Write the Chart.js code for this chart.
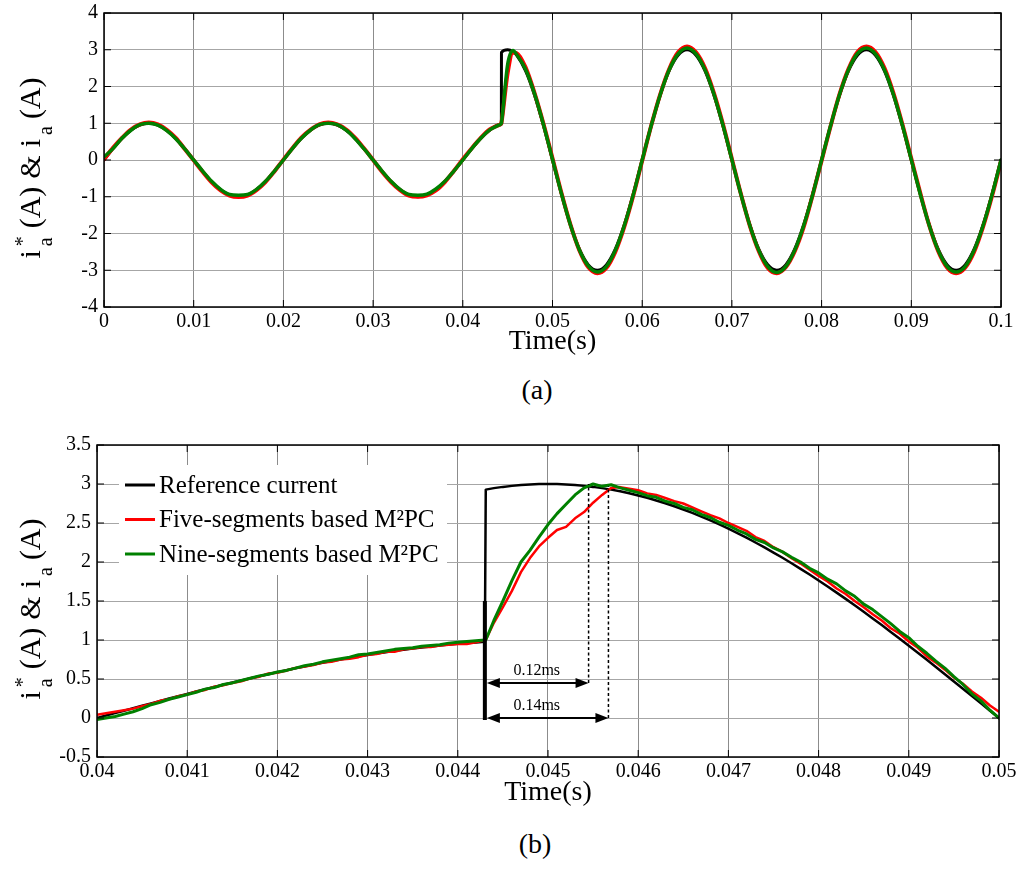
<!DOCTYPE html>
<html>
<head>
<meta charset="utf-8">
<script src="https://cdn.jsdelivr.net/npm/chart.js@4/dist/chart.umd.min.js"></script>
<style>
  body { margin: 0; background: #fff; width: 1017px; height: 869px; position: relative; overflow: hidden; }
  canvas { position: absolute; left: 0; }
  #chartA { top: 0; }
  #chartB { top: 430px; }
  .cap { position: absolute; width: 100px; text-align: center; font: 28px "Liberation Serif", serif; line-height: 28px; }
</style>
</head>
<body>
<canvas id="chartA" width="1017" height="365"></canvas>
<canvas id="chartB" width="1017" height="385"></canvas>
<div class="cap" style="left:487px;top:376px">(a)</div>
<div class="cap" style="left:485px;top:830px">(b)</div>
<script>
// series labels
var seriesNames = ["Reference current", "Five-segments based M²PC", "Nine-segments based M²PC"]

// (a) 0 - 0.1 s, times in ms
var timeA = [0,1,2,3,4,5,6,7,8,9,10,11,12,13,14,15,16,17,18,19,20,21,22,23,24,25,26,27,28,29,30,31,32,33,34,35,36,37,38,39,40,41,42,43,44,
  44.3,44.31,45,45.6,
  46,47,48,49,50,51,52,53,54,55,56,57,58,59,60,61,62,63,64,65,66,67,68,69,70,71,72,73,74,75,76,77,78,79,80,81,82,83,84,85,86,87,88,89,90,91,92,93,94,95,96,97,98,99,100]
var refA = [0,.309,.588,.809,.951,1,.951,.809,.588,.309,0,-.309,-.588,-.809,-.951,-1,-.951,-.809,-.588,-.309,
  0,.309,.588,.809,.951,1,.951,.809,.588,.309,0,-.309,-.588,-.809,-.951,-1,-.951,-.809,-.588,-.309,
  0,.309,.588,.809,.951,
  .976,2.93,3,2.947,
  2.853,2.427,1.763,.927,0,-.927,-1.763,-2.427,-2.853,-3,-2.853,-2.427,-1.763,-.927,0,.927,1.763,2.427,2.853,3,
  2.853,2.427,1.763,.927,0,-.927,-1.763,-2.427,-2.853,-3,-2.853,-2.427,-1.763,-.927,0,.927,1.763,2.427,2.853,3,
  2.853,2.427,1.763,.927,0,-.927,-1.763,-2.427,-2.853,-3,-2.853,-2.427,-1.763,-.927,0]
var fiveA = [.02,.33,.6,.83,.97,1.02,.97,.82,.6,.3,-.01,-.32,-.61,-.83,-.97,-1.01,-.97,-.82,-.6,-.31,
  .01,.32,.61,.82,.97,1.02,.97,.83,.6,.31,0,-.32,-.6,-.82,-.97,-1,-.96,-.83,-.6,-.3,
  .02,.32,.6,.83,.95,
  1,1.01,2.37,2.92,
  2.91,2.52,1.82,.98,.05,-.9,-1.76,-2.46,-2.92,-3.08,-2.94,-2.5,-1.82,-.97,-.02,.93,1.78,2.47,2.93,3.09,
  2.93,2.5,1.82,.98,.03,-.92,-1.79,-2.48,-2.94,-3.08,-2.92,-2.49,-1.83,-.96,-.02,.92,1.79,2.48,2.94,3.09,
  2.94,2.51,1.83,.98,.04,-.9,-1.78,-2.48,-2.93,-3.08,-2.93,-2.5,-1.82,-.98,-.03]
var nineA = [.08,.31,.59,.81,.96,1,.95,.8,.58,.3,0,-.3,-.58,-.8,-.94,-.96,-.94,-.8,-.58,-.3,
  0,.31,.59,.81,.96,1,.96,.81,.58,.3,0,-.3,-.58,-.8,-.94,-.96,-.93,-.79,-.58,-.3,
  0,.31,.59,.82,.95,
  1,1.01,2.6,2.98,
  2.87,2.47,1.8,.96,.02,-.92,-1.77,-2.45,-2.89,-3.05,-2.9,-2.46,-1.79,-.95,0,.93,1.77,2.45,2.89,3.05,
  2.89,2.46,1.79,.95,.01,-.93,-1.78,-2.46,-2.9,-3.06,-2.9,-2.46,-1.79,-.95,0,.93,1.78,2.46,2.9,3.05,
  2.89,2.46,1.79,.95,.01,-.93,-1.78,-2.46,-2.9,-3.05,-2.9,-2.46,-1.79,-.95,0]

// (b) 0.04 - 0.05 s, times in ms
var timeB = [40,40.1,40.2,40.3,40.4,40.5,40.6,40.7,40.8,40.9,41,41.1,41.2,41.3,41.4,41.5,41.6,41.7,41.8,41.9,
  42,42.1,42.2,42.3,42.4,42.5,42.6,42.7,42.8,42.9,43,43.1,43.2,43.3,43.4,43.5,43.6,43.7,43.8,43.9,44,44.1,44.2,44.3,
  44.31,
  44.4,44.5,44.6,44.7,44.8,44.9,45,45.1,45.2,45.3,45.4,45.5,45.6,45.7,45.8,45.9,46,46.1,46.2,46.3,46.4,46.5,46.6,46.7,46.8,46.9,
  47,47.1,47.2,47.3,47.4,47.5,47.6,47.7,47.8,47.9,48,48.1,48.2,48.3,48.4,48.5,48.6,48.7,48.8,48.9,49,49.1,49.2,49.3,49.4,49.5,49.6,49.7,49.8,49.9,50]
var refB = [0,.031,.063,.094,.125,.156,.187,.218,.249,.279,.309,.339,.368,.397,.426,.454,.482,.509,.536,.562,
  .588,.613,.637,.661,.685,.707,.729,.75,.771,.79,.809,.827,.844,.861,.876,.891,.905,.918,.93,.941,.951,.96,.969,.976,
  2.928,
  2.947,2.963,2.976,2.987,2.994,2.999,3,2.999,2.994,2.987,2.976,2.963,2.947,2.928,2.906,2.881,2.853,2.823,2.789,2.753,2.714,2.673,2.629,2.582,2.533,2.481,
  2.427,2.371,2.312,2.25,2.187,2.121,2.054,1.984,1.912,1.839,1.763,1.686,1.607,1.527,1.445,1.362,1.277,1.191,1.104,1.016,.927,.837,.746,.654,.562,.469,.376,.282,.188,.094,0]
var fiveB = [.04,.06,.08,.1,.12,.15,.18,.22,.24,.28,.3,.34,.36,.4,.42,.45,.47,.51,.53,.57,
  .58,.61,.64,.66,.68,.71,.72,.75,.76,.78,.81,.82,.85,.85,.88,.89,.91,.91,.93,.94,.95,.95,.97,1,
  1,
  1.22,1.42,1.63,1.87,2.05,2.2,2.31,2.41,2.45,2.56,2.64,2.76,2.86,2.95,2.96,2.94,2.92,2.88,2.86,2.82,2.78,2.75,2.7,2.65,2.6,2.56,
  2.5,2.45,2.4,2.32,2.27,2.19,2.13,2.05,1.98,1.9,1.82,1.75,1.66,1.59,1.5,1.42,1.33,1.25,1.15,1.08,.98,.9,.79,.71,.62,.52,.44,.34,.26,.16,.08]
var nineB = [-.02,0,.02,.05,.08,.12,.17,.2,.24,.27,.3,.33,.37,.39,.43,.45,.48,.51,.54,.56,
  .59,.61,.64,.67,.69,.72,.74,.76,.78,.81,.82,.84,.86,.88,.89,.9,.92,.93,.94,.96,.97,.98,.99,1,
  1,
  1.25,1.5,1.76,2,2.15,2.32,2.48,2.62,2.74,2.86,2.95,3,2.97,2.99,2.95,2.92,2.89,2.85,2.83,2.78,2.75,2.7,2.67,2.61,2.57,2.51,
  2.47,2.41,2.36,2.29,2.25,2.18,2.13,2.06,2,1.92,1.86,1.78,1.72,1.63,1.56,1.46,1.39,1.3,1.21,1.11,1.03,.92,.83,.73,.64,.53,.43,.31,.22,.1,0]

// tick values
var xTicksA = [0,0.01,0.02,0.03,0.04,0.05,0.06,0.07,0.08,0.09,0.1]
var yTicksA = [-4,-3,-2,-1,0,1,2,3,4]
var xTicksB = [0.04,0.041,0.042,0.043,0.044,0.045,0.046,0.047,0.048,0.049,0.05]
var yTicksB = [-0.5,0,0.5,1,1.5,2,2.5,3,3.5]

// response-time annotation in (b)
var stepTime = 0.0443
var settleTimes = [0.04545, 0.04567]
var settleLevels = [3.0, 2.97]
var arrowLevels = [0.45, 0]
var arrowLabels = ["0.12ms", "0.14ms"]
var labelLevels = [0.55, 0.1]
var markTop = 1.5

var colors = ["#000000", "#ff0000", "#008000"]
var serif = '"Liberation Serif", "Times New Roman", serif'

Chart.defaults.font.family = serif
Chart.defaults.color = '#000'

function pts(times, vals) {
    return times.map(function (t, i) { return { x: t / 1000, y: vals[i] } })
}

function tickLabel(v) {
    return String(+v.toFixed(4))
}

function series(i, data, width, smooth) {
    return {
        label: seriesNames[i],
        data: data,
        borderColor: colors[i],
        backgroundColor: colors[i],
        borderWidth: width,
        order: 2 - i,
        pointRadius: 0,
        fill: false,
        cubicInterpolationMode: smooth ? 'monotone' : 'default',
        tension: 0,
        borderJoinStyle: 'round',
        borderCapStyle: 'round'
    }
}

function xAxis(ticks, h, titlePad) {
    return {
        type: 'linear', min: ticks[0], max: ticks[ticks.length - 1],
        afterBuildTicks: function (s) { s.ticks = ticks.map(function (v) { return { value: v } }) },
        afterFit: function (s) { s.height = h; s.paddingLeft = 0; s.paddingRight = 0 },
        grid: { color: '#8c8c8c', lineWidth: 1, drawTicks: false },
        border: { display: false },
        ticks: { font: { size: 20, family: serif }, padding: 3, maxRotation: 0, autoSkip: false, callback: tickLabel },
        title: { display: true, text: 'Time(s)', font: { size: 28, family: serif }, padding: { top: 0, bottom: titlePad } }
    }
}

function yAxis(ticks, w) {
    return {
        type: 'linear', min: ticks[0], max: ticks[ticks.length - 1],
        afterBuildTicks: function (s) { s.ticks = ticks.map(function (v) { return { value: v } }) },
        afterFit: function (s) { s.width = w; s.paddingTop = 0; s.paddingBottom = 0 },
        grid: { color: '#a6a6a6', lineWidth: 1, drawTicks: false },
        border: { display: false },
        ticks: { font: { size: 20, family: serif }, padding: 6, autoSkip: false, callback: tickLabel }
    }
}

// y title: i*_a(A) & i_a(A), drawn in pieces for the sub/superscripts
function drawYTitle(ctx, x, cy) {
    var big = '30px ' + serif, small = '20px ' + serif
    var parts = [
        ['i', big, 0, 4], ['*', small, -11, 0, true], ['a', small, 12, 9],
        ['(A)', big, 0, 8], ['&', big, 0, 8], ['i', big, 0, 4], ['a', small, 12, 7], ['(A)', big, 0, 0]
    ]
    ctx.save()
    ctx.translate(x, cy)
    ctx.rotate(-Math.PI / 2)
    ctx.fillStyle = '#000'
    ctx.textBaseline = 'alphabetic'
    ctx.textAlign = 'left'
    var total = 0
    parts.forEach(function (p) {
        ctx.font = p[1]
        p.w = ctx.measureText(p[0]).width
        if (!p[4]) total += p.w + p[3]
    })
    var pos = -total / 2
    parts.forEach(function (p) {
        ctx.font = p[1]
        ctx.fillText(p[0], pos, p[2])
        if (!p[4]) pos += p.w + p[3]
    })
    ctx.restore()
}

function drawLegend(chart) {
    var ctx = chart.ctx, a = chart.chartArea
    ctx.fillStyle = '#fff'
    ctx.fillRect(a.left + 22, a.top + 20, 328, 110)
    chart.data.datasets.forEach(function (ds, i) {
        var y = a.top + 40 + i * 34.5
        ctx.strokeStyle = ds.borderColor
        ctx.lineWidth = 3
        ctx.beginPath()
        ctx.moveTo(a.left + 28, y)
        ctx.lineTo(a.left + 58, y)
        ctx.stroke()
        ctx.fillStyle = '#000'
        ctx.font = '25px ' + serif
        ctx.textAlign = 'left'
        ctx.textBaseline = 'middle'
        ctx.fillText(ds.label, a.left + 62, y + 1)
    })
}

function arrowHead(ctx, x, y, dir) {
    ctx.beginPath()
    ctx.moveTo(x, y)
    ctx.lineTo(x + dir * 13, y - 5)
    ctx.lineTo(x + dir * 13, y + 5)
    ctx.closePath()
    ctx.fill()
}

function drawMarks(chart) {
    var ctx = chart.ctx, xs = chart.scales.x, ys = chart.scales.y
    var x0 = xs.getPixelForValue(stepTime)
    ctx.strokeStyle = '#000'
    ctx.fillStyle = '#000'
    ctx.lineWidth = 4
    ctx.beginPath()
    ctx.moveTo(x0, ys.getPixelForValue(0) + 2)
    ctx.lineTo(x0, ys.getPixelForValue(markTop))
    ctx.stroke()
    var lx = xs.getPixelForValue((stepTime + settleTimes[0]) / 2)
    settleTimes.forEach(function (t, i) {
        var x1 = xs.getPixelForValue(t), ya = ys.getPixelForValue(arrowLevels[i])
        ctx.lineWidth = 1.5
        ctx.setLineDash([3, 2.5])
        ctx.beginPath()
        ctx.moveTo(x1, ya)
        ctx.lineTo(x1, ys.getPixelForValue(settleLevels[i]))
        ctx.stroke()
        ctx.setLineDash([])
        ctx.lineWidth = 2
        ctx.beginPath()
        ctx.moveTo(x0 + 10, ya)
        ctx.lineTo(x1 - 10, ya)
        ctx.stroke()
        arrowHead(ctx, x0 + 2, ya, 1)
        arrowHead(ctx, x1, ya, -1)
        ctx.font = '16px ' + serif
        ctx.textAlign = 'center'
        ctx.textBaseline = 'alphabetic'
        ctx.fillText(arrowLabels[i], lx, ys.getPixelForValue(labelLevels[i]))
    })
}

var framePlugin = {
    id: 'frame',
    afterDatasetsDraw: function (chart, args, opts) {
        var ctx = chart.ctx, a = chart.chartArea
        var xs = chart.scales.x, ys = chart.scales.y
        ctx.save()
        if (opts.legend) drawLegend(chart)
        if (opts.marks) drawMarks(chart)
        ctx.strokeStyle = '#000'
        ctx.lineWidth = 1.5
        ctx.strokeRect(a.left, a.top, a.right - a.left, a.bottom - a.top)
        ctx.lineWidth = 1
        ctx.beginPath()
        xs.ticks.forEach(function (t) {
            var px = xs.getPixelForValue(t.value)
            ctx.moveTo(px, a.bottom); ctx.lineTo(px, a.bottom - 7)
            ctx.moveTo(px, a.top); ctx.lineTo(px, a.top + 7)
        })
        ys.ticks.forEach(function (t) {
            var py = ys.getPixelForValue(t.value)
            ctx.moveTo(a.left, py); ctx.lineTo(a.left + 7, py)
            ctx.moveTo(a.right, py); ctx.lineTo(a.right - 7, py)
        })
        ctx.stroke()
        ctx.restore()
        drawYTitle(ctx, opts.titleX, (a.top + a.bottom) / 2 + 8)
    }
}

function baseOptions(pad, frame) {
    return {
        responsive: false,
        animation: false,
        events: [],
        layout: { padding: pad },
        plugins: { legend: { display: false }, tooltip: { enabled: false }, frame: frame }
    }
}

var optA = baseOptions({ left: 0, right: 16, top: 13, bottom: 0 }, { titleX: 40 })
optA.scales = { x: xAxis(xTicksA, 58, 7), y: yAxis(yTicksA, 104) }

new Chart('chartA', {
    type: 'line',
    data: {
        datasets: [
            series(0, pts(timeA, refA), 3, true),
            series(1, pts(timeA, fiveA), 4, true),
            series(2, pts(timeA, nineA), 3.5, true)
        ]
    },
    options: optA,
    plugins: [framePlugin]
})

var optB = baseOptions({ left: 0, right: 18, top: 15, bottom: 0 }, { titleX: 40, legend: true, marks: true })
optB.scales = { x: xAxis(xTicksB, 58, 6), y: yAxis(yTicksB, 97) }

new Chart('chartB', {
    type: 'line',
    data: {
        datasets: [
            series(0, pts(timeB, refB), 2.5, false),
            series(1, pts(timeB, fiveB), 2.5, false),
            series(2, pts(timeB, nineB), 3, false)
        ]
    },
    options: optB,
    plugins: [framePlugin]
})
</script>
</body>
</html>
